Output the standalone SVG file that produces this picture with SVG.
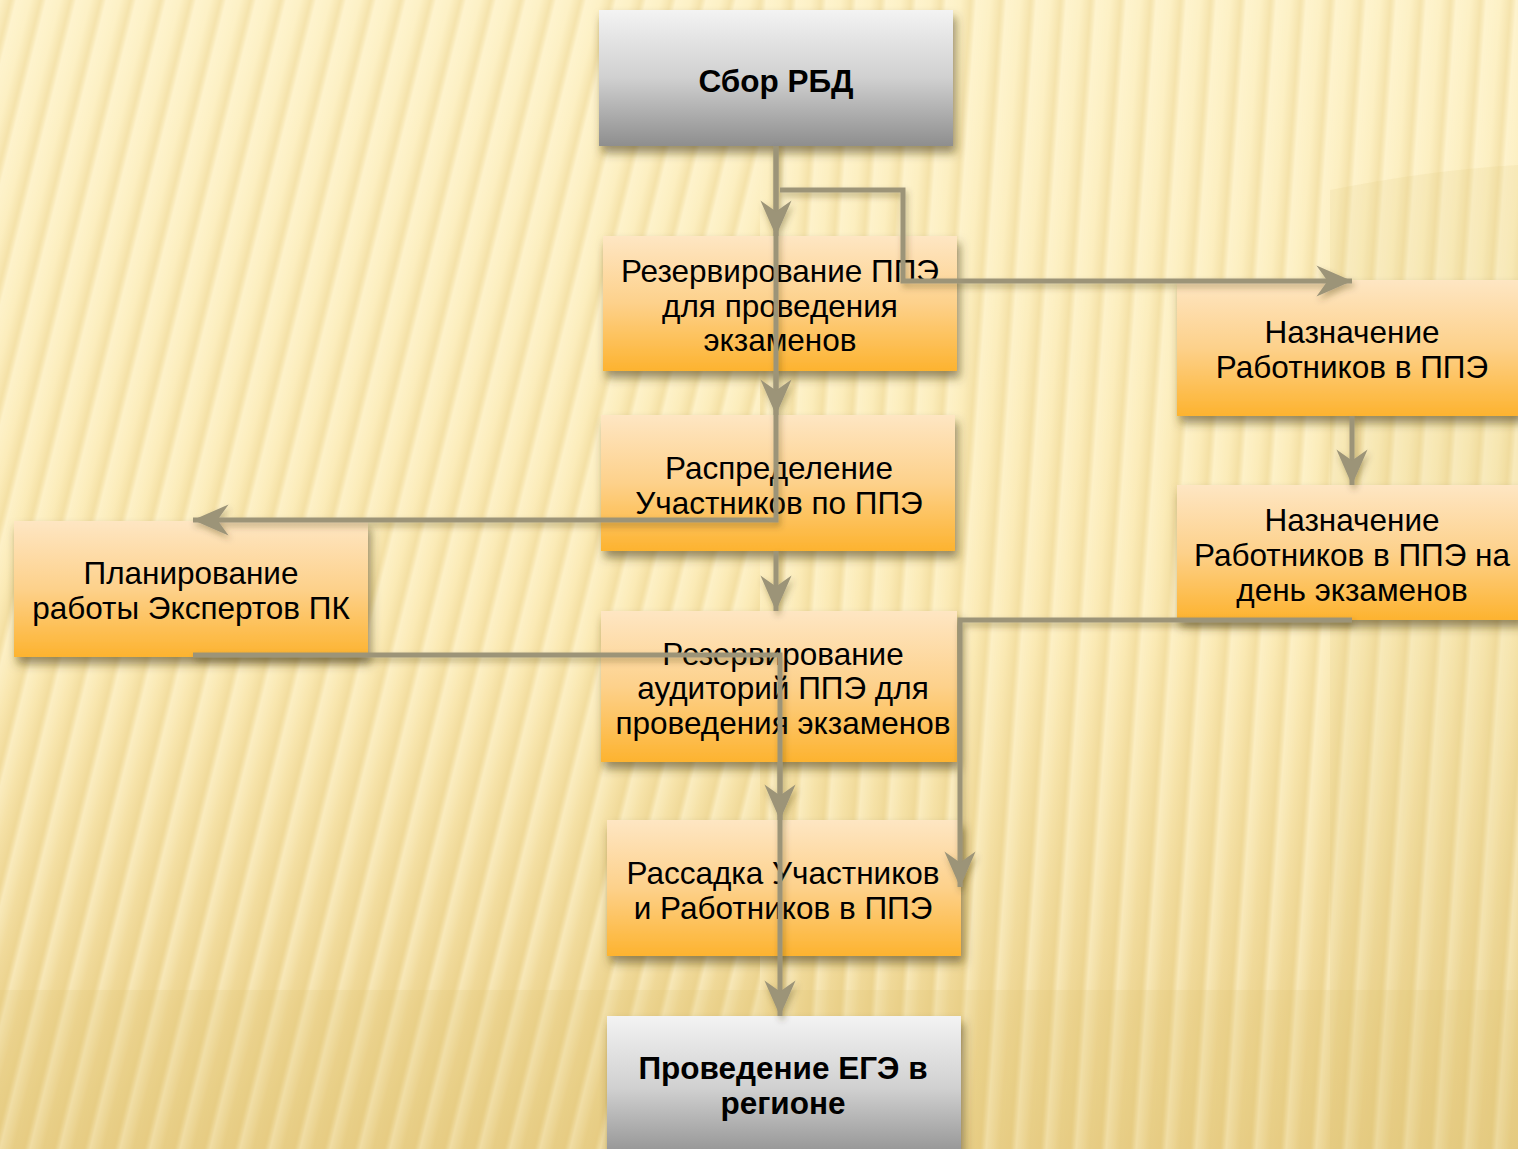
<svg xmlns="http://www.w3.org/2000/svg" width="1518" height="1149" viewBox="0 0 1518 1149">
<defs>
<linearGradient id="bg" x1="0" y1="0" x2="0" y2="1">
<stop offset="0" stop-color="#fdf1c6"/>
<stop offset="0.55" stop-color="#fbeab5"/>
<stop offset="1" stop-color="#ead08a"/>
</linearGradient>
<linearGradient id="stripeG" x1="0" y1="0" x2="1" y2="0">
<stop offset="0" stop-color="#e8cf86" stop-opacity="0"/>
<stop offset="0.35" stop-color="#e6cb80" stop-opacity="0.35"/>
<stop offset="0.55" stop-color="#fff6d6" stop-opacity="0.5"/>
<stop offset="1" stop-color="#fff6d6" stop-opacity="0"/>
</linearGradient>
<pattern id="stripesL" width="30" height="60" patternUnits="userSpaceOnUse" patternTransform="skewX(-14)">
<rect width="30" height="60" fill="url(#stripeG)"/>
</pattern>
<pattern id="stripesR" width="30" height="60" patternUnits="userSpaceOnUse" patternTransform="skewX(-4)">
<rect width="30" height="60" fill="url(#stripeG)"/>
</pattern>
<linearGradient id="gGrey" x1="0" y1="0" x2="0" y2="1">
<stop offset="0" stop-color="#f3f3f3"/>
<stop offset="0.5" stop-color="#d0d0d0"/>
<stop offset="1" stop-color="#8e8e8e"/>
</linearGradient>
<linearGradient id="gOrange" x1="0" y1="0" x2="0" y2="1">
<stop offset="0" stop-color="#fee6c3"/>
<stop offset="0.5" stop-color="#fdd18b"/>
<stop offset="1" stop-color="#fdb32f"/>
</linearGradient>
<filter id="shadow" x="-10%" y="-10%" width="125%" height="135%">
<feDropShadow dx="3" dy="7" stdDeviation="5" flood-color="#4a3a10" flood-opacity="0.55"/>
</filter>
<filter id="lshadow" x="-20%" y="-20%" width="140%" height="140%">
<feDropShadow dx="2" dy="4" stdDeviation="3" flood-color="#4a3a10" flood-opacity="0.35"/>
</filter>
<marker id="arr" markerUnits="userSpaceOnUse" markerWidth="40" markerHeight="40" viewBox="-34 -16 36 32" refX="0" refY="0" orient="auto">
<path d="M0,0 L-32,-14 L-22,0 L-32,14 Z" fill="#9c9478"/>
</marker>
</defs>
<style>
.box{filter:url(#shadow)}
.or{fill:url(#gOrange)}
.gr{fill:url(#gGrey)}
.t{font-family:"Liberation Sans",Arial,sans-serif;font-size:31.5px;fill:#000;text-anchor:middle}
.b{font-weight:bold}
.c{fill:none;stroke:#9c9478;stroke-width:5;stroke-linejoin:miter}
.a{marker-end:url(#arr)}
</style>

<rect width="1518" height="1149" fill="url(#bg)"/>
<rect x="0" y="0" width="760" height="1149" fill="url(#stripesL)"/>
<rect x="760" y="0" width="758" height="1149" fill="url(#stripesR)"/>
<path d="M1330,190 Q1430,170 1518,165 L1518,1149 L1330,1149 Z" fill="#d9bd6b" opacity="0.12"/>
<rect x="0" y="990" width="1518" height="159" fill="#dcc070" opacity="0.18"/>

<g id="n-sbor"><rect class="box gr" x="599" y="10" width="354" height="136"/><text class="t b" x="776" y="92">Сбор РБД</text></g>
<g id="n-rezppe"><rect class="box or" x="603" y="236" width="354" height="135"/><text class="t" x="780" y="282">Резервирование ППЭ</text><text class="t" x="780" y="317">для проведения</text><text class="t" x="780" y="351">экзаменов</text></g>
<g id="n-raspr"><rect class="box or" x="601" y="415" width="354" height="136"/><text class="t" x="779" y="479">Распределение</text><text class="t" x="779" y="514">Участников по ППЭ</text></g>
<g id="n-plan"><rect class="box or" x="14" y="521" width="354" height="136"/><text class="t" x="191" y="584">Планирование</text><text class="t" x="191" y="619">работы Экспертов ПК</text></g>
<g id="n-rezaud"><rect class="box or" x="601" y="611" width="356" height="151"/><text class="t" x="783" y="665">Резервирование</text><text class="t" x="783" y="699">аудиторий ППЭ для</text><text class="t" x="783" y="734">проведения экзаменов</text></g>
<g id="n-rassad"><rect class="box or" x="607" y="820" width="354" height="136"/><text class="t" x="783" y="884">Рассадка Участников</text><text class="t" x="783" y="919">и Работников в ППЭ</text></g>
<g id="n-egee"><rect class="box gr" x="607" y="1016" width="354" height="145"/><text class="t b" x="783" y="1079">Проведение ЕГЭ в</text><text class="t b" x="783" y="1114">регионе</text></g>
<g id="n-nazn1"><rect class="box or" x="1177" y="280" width="345" height="136"/><text class="t" x="1352" y="343">Назначение</text><text class="t" x="1352" y="378">Работников в ППЭ</text></g>
<g id="n-nazn2"><rect class="box or" x="1177" y="485" width="345" height="135"/><text class="t" x="1352" y="531">Назначение</text><text class="t" x="1352" y="566">Работников в ППЭ на</text><text class="t" x="1352" y="601">день экзаменов</text></g>

<g id="connectors" filter="url(#lshadow)">
<path class="c a" d="M776,146 V520 H193"/>
<path class="c a" d="M776,146 V236"/>
<path class="c a" d="M776,371 V415"/>
<path class="c a" d="M776,551 V611"/>
<path class="c a" d="M193,655 H780 V1016"/>
<path class="c a" d="M780,762 V820"/>
<path class="c a" d="M780,190 H903 V281 H1352"/>
<path class="c a" d="M1352,416 V485"/>
<path class="c a" d="M1352,620 H960 V887"/>
</g>
</svg>
